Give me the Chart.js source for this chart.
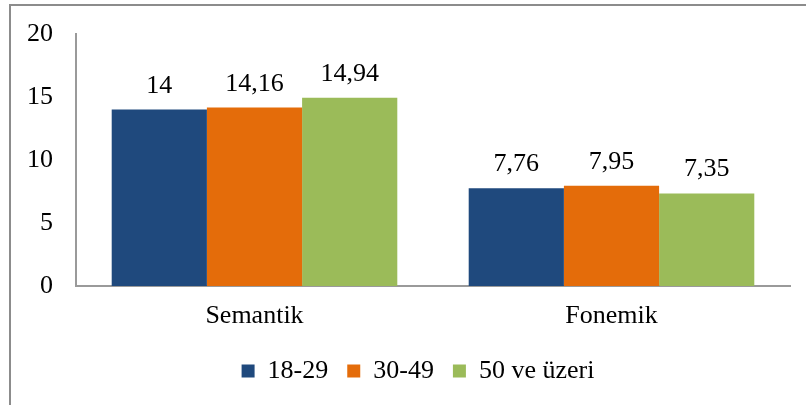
<!DOCTYPE html>
<html>
<head>
<meta charset="utf-8">
<script src="https://cdn.jsdelivr.net/npm/chart.js@4"></script>
<style>
  body { margin: 0; background: #fff; }
  #wrap { position: relative; width: 806px; height: 405px; }
  #frame { position: absolute; left: 9px; top: 4px; right: -10px; bottom: -10px;
           border-left: 2px solid #8c8c8c; border-top: 2px solid #8c8c8c; }
  canvas { position: absolute; left: 0; top: 0; }
</style>
</head>
<body>
<div id="wrap">
  <div id="frame"></div>
  <canvas id="grafico" width="806" height="405"></canvas>
</div>
<script>
// Dados
const categorias = ['Semantik', 'Fonemik'];
const grupos = ['18-29', '30-49', '50 ve üzeri'];
const valores1829 = [14, 7.76];
const valores3049 = [14.16, 7.95];
const valores50 = [14.94, 7.35];
const cores = ['#1F497D', '#E46C0A', '#9BBB59'];
const ticksY = [0, 5, 10, 15, 20];

const fonte = "'Liberation Serif', 'Times New Roman', serif";

// Rótulos de valor acima das barras
const rotulos = {
    id: 'rotulos',
    beforeDraw(chart) {
        // legenda um pouco deslocada para a direita, como no original
        if (chart.legend && !chart.legend._movido) {
            chart.legend.left += 23;
            chart.legend.right += 23;
            chart.legend._movido = true;
        }
    },
    afterDatasetsDraw(chart) {
        const ctx = chart.ctx;
        ctx.save();
        ctx.font = '26px ' + fonte;
        ctx.fillStyle = '#000';
        ctx.textAlign = 'center';
        ctx.textBaseline = 'alphabetic';
        chart.data.datasets.forEach((ds, i) => {
            chart.getDatasetMeta(i).data.forEach((bar, j) => {
                const txt = String(ds.data[j]).replace('.', ',');
                ctx.fillText(txt, bar.x, bar.y - 17);
            });
        });
        ctx.restore();
    }
};

const series = [valores1829, valores3049, valores50];

new Chart(document.getElementById('grafico'), {
    type: 'bar',
    data: {
        labels: categorias,
        datasets: grupos.map((g, i) => ({
            label: g,
            data: series[i],
            backgroundColor: cores[i],
            borderWidth: 0,
            categoryPercentage: 0.8,
            barPercentage: 1.0
        }))
    },
    options: {
        responsive: false,
        animation: false,
        layout: { padding: { top: 34, right: 16, bottom: 11, left: 0 } },
        scales: {
            x: {
                grid: { display: false, drawTicks: false },
                border: { display: true, color: '#9a9a9a', width: 2 },
                ticks: { color: '#000', font: { family: fonte, size: 26 }, padding: 15 },
                afterFit(scale) { scale.height = 53; }
            },
            y: {
                min: 0,
                max: 20,
                grid: { display: false, drawTicks: false },
                border: { display: true, color: '#9a9a9a', width: 2 },
                afterBuildTicks(scale) { scale.ticks = ticksY.map(v => ({ value: v })); },
                ticks: { color: '#000', font: { family: fonte, size: 26 }, padding: 23 },
                afterFit(scale) {
                    scale.width = 76;
                    scale.paddingTop = 0;
                    scale.paddingBottom = 0;
                }
            }
        },
        plugins: {
            legend: {
                position: 'bottom',
                labels: {
                    color: '#000',
                    font: { family: fonte, size: 26 },
                    boxWidth: 13,
                    boxHeight: 13,
                    padding: 19
                }
            },
            tooltip: { enabled: false }
        }
    },
    plugins: [rotulos]
});
</script>
</body>
</html>
